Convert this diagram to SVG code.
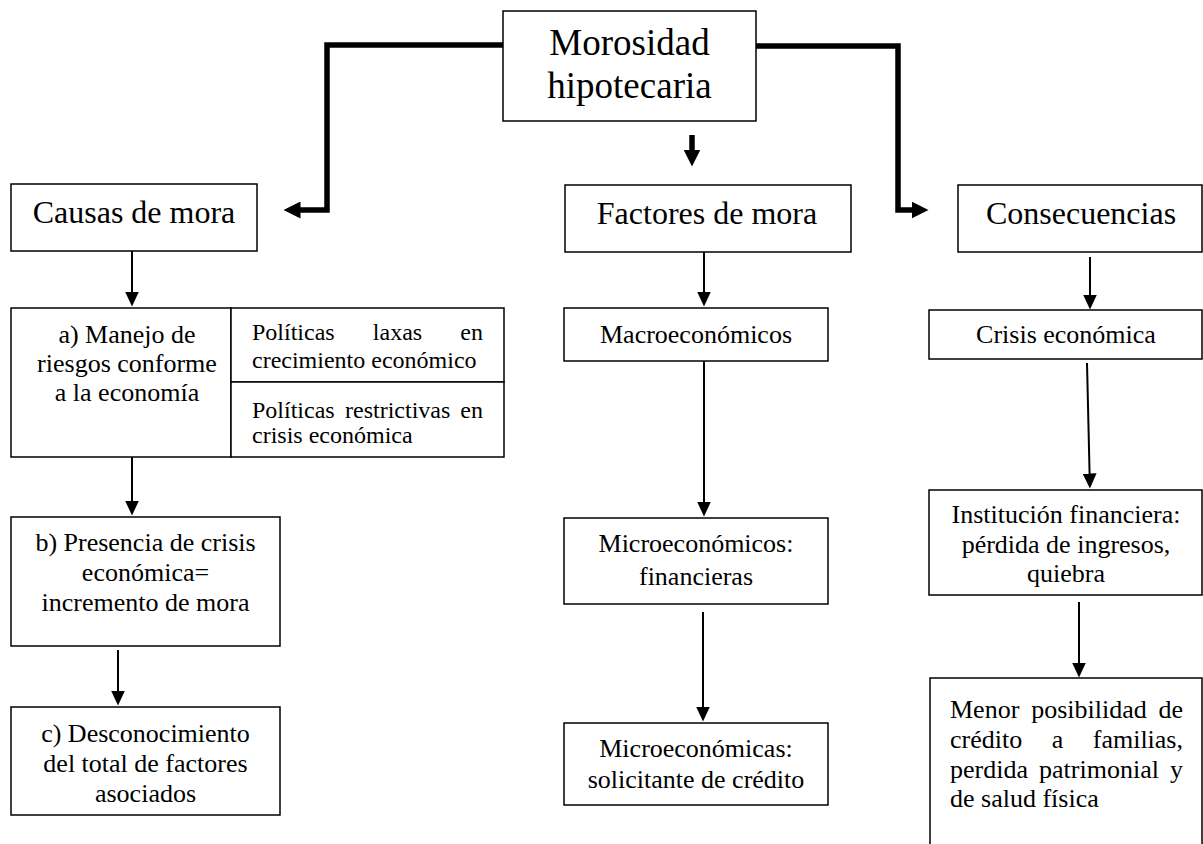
<svg xmlns="http://www.w3.org/2000/svg" width="1203" height="844" viewBox="0 0 1203 844">
<style>
.box{fill:#fff;stroke:#000;stroke-width:1.5}
text{font-family:'Liberation Serif','Times New Roman',Times,'DejaVu Serif',serif;fill:#000}
.c{text-anchor:middle}
.f37{font-size:37px}
.f32{font-size:32px}
.f26{font-size:26px}
.f24{font-size:24px}
.thick{fill:none;stroke:#000;stroke-width:5.5}
.thin{fill:none;stroke:#000;stroke-width:2}
</style>
<defs>
<marker id="hk" markerUnits="userSpaceOnUse" viewBox="0 0 17 17" refX="0.5" refY="8.5" markerWidth="17" markerHeight="17" orient="auto"><path d="M0,0 L17,8.5 L0,17 Z" fill="#000"/></marker>
<marker id="hn" markerUnits="userSpaceOnUse" viewBox="0 0 15 14" refX="0.5" refY="7" markerWidth="15" markerHeight="14" orient="auto"><path d="M0,0 L15,7 L0,14 Z" fill="#000"/></marker>
</defs>
<rect width="1203" height="844" fill="#fff"/>
<g id="connectors">
<path class="thick" d="M503,45 H327 V210 H300" marker-end="url(#hk)"/>
<path class="thick" d="M756,46 H898 V210 H912" marker-end="url(#hk)"/>
<path class="thick" d="M692,135 V150" marker-end="url(#hk)"/>
<path class="thin" d="M132,251 V292" marker-end="url(#hn)"/>
<path class="thin" d="M132,457 V501" marker-end="url(#hn)"/>
<path class="thin" d="M118,650 V691" marker-end="url(#hn)"/>
<path class="thin" d="M704,252 V292" marker-end="url(#hn)"/>
<path class="thin" d="M704,361 V502" marker-end="url(#hn)"/>
<path class="thin" d="M703,612 V707" marker-end="url(#hn)"/>
<path class="thin" d="M1090,257 V295" marker-end="url(#hn)"/>
<path class="thin" d="M1087,363 L1089.6,474" marker-end="url(#hn)"/>
<path class="thin" d="M1079,602 V663" marker-end="url(#hn)"/>
</g>
<g id="morosidad">
<rect class="box" x="503" y="11" width="253" height="110"/>
<text class="c f37" x="629.5" y="55">Morosidad</text>
<text class="c f37" x="629.5" y="98">hipotecaria</text>
</g>
<g id="causas">
<rect class="box" x="11" y="184" width="246" height="67"/>
<text class="c f32" x="134" y="223">Causas de mora</text>
</g>
<g id="factores">
<rect class="box" x="565" y="185" width="286" height="67"/>
<text class="c f32" x="707" y="224">Factores de mora</text>
</g>
<g id="consecuencias">
<rect class="box" x="958" y="185" width="244" height="67"/>
<text class="c f32" x="1081" y="224">Consecuencias</text>
</g>
<g id="manejo">
<rect class="box" x="11" y="308" width="220" height="149"/>
<text class="c f26" x="127" y="343">a) Manejo de</text>
<text class="c f26" x="127" y="372">riesgos conforme</text>
<text class="c f26" x="127" y="401">a la economía</text>
</g>
<g id="politicas-laxas">
<rect class="box" x="231" y="308" width="273" height="74"/>
<text class="f24" y="340"><tspan x="252">Políticas</tspan><tspan x="397.5" text-anchor="middle">laxas</tspan><tspan x="483" text-anchor="end">en</tspan></text>
<text class="f24" x="252" y="368">crecimiento económico</text>
</g>
<g id="politicas-restrictivas">
<rect class="box" x="231" y="382" width="273" height="75"/>
<text class="f24" y="418"><tspan x="252">Políticas</tspan><tspan x="345">restrictivas</tspan><tspan x="483" text-anchor="end">en</tspan></text>
<text class="f24" x="252" y="443">crisis económica</text>
</g>
<g id="presencia">
<rect class="box" x="11" y="517" width="269" height="129"/>
<text class="c f26" x="145.5" y="551">b) Presencia de crisis</text>
<text class="c f26" x="145.5" y="581">económica=</text>
<text class="c f26" x="145.5" y="611">incremento de mora</text>
</g>
<g id="desconocimiento">
<rect class="box" x="11" y="707" width="269" height="108"/>
<text class="c f26" x="145.5" y="742">c) Desconocimiento</text>
<text class="c f26" x="145.5" y="772">del total de factores</text>
<text class="c f26" x="145.5" y="802">asociados</text>
</g>
<g id="macro">
<rect class="box" x="564" y="308" width="264" height="53"/>
<text class="c f26" x="696" y="343">Macroeconómicos</text>
</g>
<g id="micro-fin">
<rect class="box" x="564" y="518" width="264" height="86"/>
<text class="c f26" x="696" y="552">Microeconómicos:</text>
<text class="c f26" x="696" y="585">financieras</text>
</g>
<g id="micro-sol">
<rect class="box" x="564" y="723" width="264" height="82"/>
<text class="c f26" x="696" y="757">Microeconómicas:</text>
<text class="c f26" x="696" y="788">solicitante de crédito</text>
</g>
<g id="crisis">
<rect class="box" x="929" y="310" width="273" height="49"/>
<text class="c f26" x="1066" y="343">Crisis económica</text>
</g>
<g id="institucion">
<rect class="box" x="929" y="490" width="273" height="105"/>
<text class="c f26" x="1066" y="523">Institución financiera:</text>
<text class="c f26" x="1066" y="553">pérdida de ingresos,</text>
<text class="c f26" x="1066" y="582">quiebra</text>
</g>
<g id="menor">
<rect class="box" x="930" y="678" width="272" height="190"/>
<text class="f26" y="718"><tspan x="950">Menor</tspan><tspan x="1089" text-anchor="middle">posibilidad</tspan><tspan x="1183" text-anchor="end">de</tspan></text>
<text class="f26" y="748"><tspan x="950">crédito</tspan><tspan x="1057.5" text-anchor="middle">a</tspan><tspan x="1183" text-anchor="end">familias,</tspan></text>
<text class="f26" y="778"><tspan x="950">perdida</tspan><tspan x="1099" text-anchor="middle">patrimonial</tspan><tspan x="1183" text-anchor="end">y</tspan></text>
<text class="f26" x="950" y="807">de salud física</text>
</g>
</svg>
